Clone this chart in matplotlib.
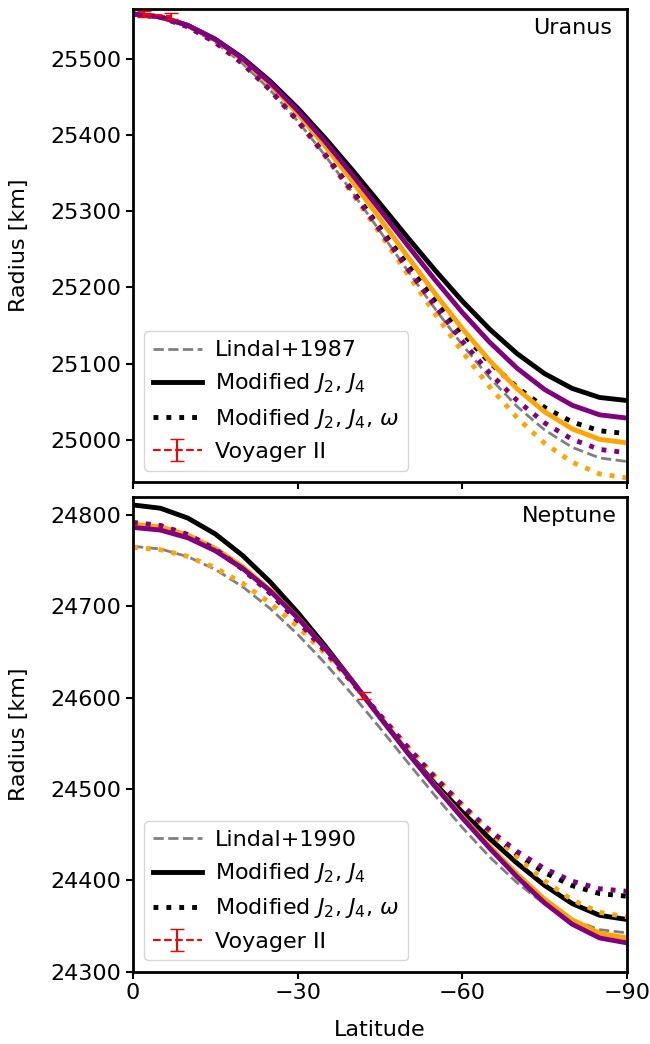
import matplotlib
matplotlib.use('Agg')
import matplotlib.pyplot as plt

plt.rcParams['font.family'] = 'DejaVu Sans'
plt.rcParams['font.size'] = 16
plt.rcParams['mathtext.fontset'] = 'dejavusans'

# latitude grid [deg]
lat = [0, -5, -10, -15, -20, -25, -30, -35, -40, -45,
       -50, -55, -60, -65, -70, -75, -80, -85, -90]

# Uranus radius profiles [km]
ura_lindal = [25559.0, 25554.8, 25542.3, 25521.8, 25493.8, 25459.1, 25418.5, 25373.3, 25324.5, 25273.7,
              25222.4, 25172.3, 25124.6, 25081.3, 25043.6, 25012.9, 24990.2, 24976.2, 24971.5]
ura_j_black = [25559.0, 25555.2, 25544.1, 25525.9, 25501.2, 25470.7, 25435.4, 25396.0, 25353.8, 25310.0,
               25265.9, 25222.9, 25182.1, 25145.1, 25113.0, 25086.8, 25067.5, 25055.6, 25051.6]
ura_j_orange = [25559.0, 25555.2, 25543.8, 25524.9, 25499.0, 25466.5, 25428.4, 25385.5, 25339.1, 25290.3,
                25240.9, 25192.3, 25146.0, 25103.7, 25066.8, 25036.7, 25014.4, 25000.7, 24996.0]
ura_j_purple = [25559.0, 25555.2, 25544.0, 25525.5, 25500.3, 25469.0, 25432.5, 25391.6, 25347.7, 25301.8,
                25255.5, 25210.2, 25167.1, 25127.9, 25093.8, 25066.0, 25045.4, 25032.8, 25028.5]
ura_jw_black = [25559.0, 25554.8, 25542.3, 25521.8, 25493.9, 25459.3, 25419.1, 25374.6, 25327.1, 25278.3,
                25229.8, 25183.3, 25140.0, 25101.5, 25068.7, 25042.5, 25023.5, 25011.9, 25008.0]
ura_jw_orange = [25559.0, 25554.8, 25542.3, 25521.8, 25493.8, 25459.0, 25418.2, 25372.5, 25323.0, 25271.0,
                 25218.1, 25165.8, 25115.5, 25069.4, 25028.8, 24995.4, 24970.6, 24955.2, 24950.0]
ura_jw_purple = [25559.0, 25554.8, 25542.3, 25521.8, 25493.8, 25459.2, 25418.7, 25373.7, 25325.3, 25275.1,
                 25224.7, 25175.8, 25129.5, 25087.7, 25051.5, 25022.2, 25000.7, 24987.4, 24983.0]

# Neptune radius profiles [km]
nep_lindal = [24765.6, 24762.8, 24754.3, 24740.4, 24721.3, 24697.5, 24669.3, 24637.6, 24603.0, 24566.7,
              24529.5, 24492.8, 24457.7, 24425.4, 24397.1, 24373.8, 24356.6, 24345.9, 24342.3]
nep_j_black = [24811.0, 24807.4, 24796.6, 24779.2, 24755.5, 24726.6, 24693.2, 24656.6, 24617.9, 24578.3,
               24540.4, 24505.9, 24474.5, 24445.5, 24418.5, 24394.3, 24374.5, 24361.6, 24357.0]
nep_j_orange = [24790.0, 24787.0, 24778.1, 24763.4, 24743.2, 24717.8, 24687.9, 24654.1, 24617.2, 24578.4,
                24539.9, 24503.6, 24469.6, 24437.2, 24406.7, 24379.2, 24356.7, 24342.0, 24336.8]
nep_j_purple = [24786.4, 24783.5, 24775.0, 24760.8, 24741.3, 24716.7, 24687.4, 24654.1, 24617.5, 24578.6,
                24539.8, 24503.0, 24468.2, 24434.9, 24403.5, 24375.1, 24351.9, 24336.8, 24331.4]
nep_jw_black = [24791.0, 24787.7, 24777.9, 24762.1, 24740.6, 24714.3, 24684.1, 24651.0, 24616.1, 24580.4,
                24545.1, 24511.3, 24479.9, 24451.7, 24427.7, 24408.3, 24394.1, 24385.4, 24382.5]
nep_jw_orange = [24764.5, 24762.0, 24754.6, 24742.2, 24725.1, 24703.5, 24677.8, 24648.4, 24616.0, 24581.4,
                 24546.9, 24514.1, 24483.0, 24453.1, 24424.9, 24399.3, 24378.5, 24364.8, 24359.9]
nep_jw_purple = [24791.9, 24788.6, 24778.7, 24762.6, 24740.9, 24714.4, 24684.1, 24651.0, 24616.2, 24580.8,
                 24546.0, 24512.8, 24482.1, 24454.7, 24431.4, 24412.7, 24399.0, 24390.7, 24387.9]

# Voyager II radio occultation
ura_vg_lat = [-2, -7]
ura_vg_r = [25559, 25556]
ura_vg_err = [4, 4]
nep_vg_lat = [-42]
nep_vg_r = [24602]
nep_vg_err = [4]

fig = plt.figure(figsize=(6.5, 10.44), dpi=100)
ax1 = fig.add_axes([0.2046, 0.5386, 0.76, 0.4531])
ax2 = fig.add_axes([0.2046, 0.0694, 0.76, 0.4548], sharex=ax1)


def draw(ax, lindal, lindal_lab, j, jw, vlat, vr, verr, name, ylim, namex):
    ax.plot(lat, lindal, '--', color='gray', lw=2, label=lindal_lab)
    cols = ['black', 'orange', 'purple']
    for i, c in enumerate(cols):
        ax.plot(lat, j[i], '-', color=c, lw=3.5,
                label='Modified $J_2$, $J_4$' if c == 'black' else None)
        ax.plot(lat, jw[i], ':', color=c, lw=3.5,
                label=r'Modified $J_2$, $J_4$, $\omega$' if c == 'black' else None)
    ax.errorbar(vlat, vr, yerr=verr, fmt='--', color='red', lw=1.5,
                capsize=5, label='Voyager II', zorder=5)
    ax.set_ylim(ylim)
    ax.set_ylabel('Radius [km]', labelpad=15)
    ax.text(namex, 0.98, name, ha='right', va='top', transform=ax.transAxes)
    ax.legend(loc='lower left', handlelength=2.2, labelspacing=0.5,
              handletextpad=0.6)
    for s in ax.spines.values():
        s.set_linewidth(2)
    ax.tick_params(width=1.5, length=5)


draw(ax1, ura_lindal, 'Lindal+1987',
     [ura_j_black, ura_j_orange, ura_j_purple],
     [ura_jw_black, ura_jw_orange, ura_jw_purple],
     ura_vg_lat, ura_vg_r, ura_vg_err, 'Uranus', (24945, 25566), 0.97)
draw(ax2, nep_lindal, 'Lindal+1990',
     [nep_j_black, nep_j_orange, nep_j_purple],
     [nep_jw_black, nep_jw_orange, nep_jw_purple],
     nep_vg_lat, nep_vg_r, nep_vg_err, 'Neptune', (24300, 24820), 0.98)

ax1.set_xlim(0, -90)
ax1.set_xticks([0, -30, -60, -90])
plt.setp(ax1.get_xticklabels(), visible=False)
ax2.set_xlabel('Latitude', labelpad=12)

fig.savefig('out.png', dpi=100)
